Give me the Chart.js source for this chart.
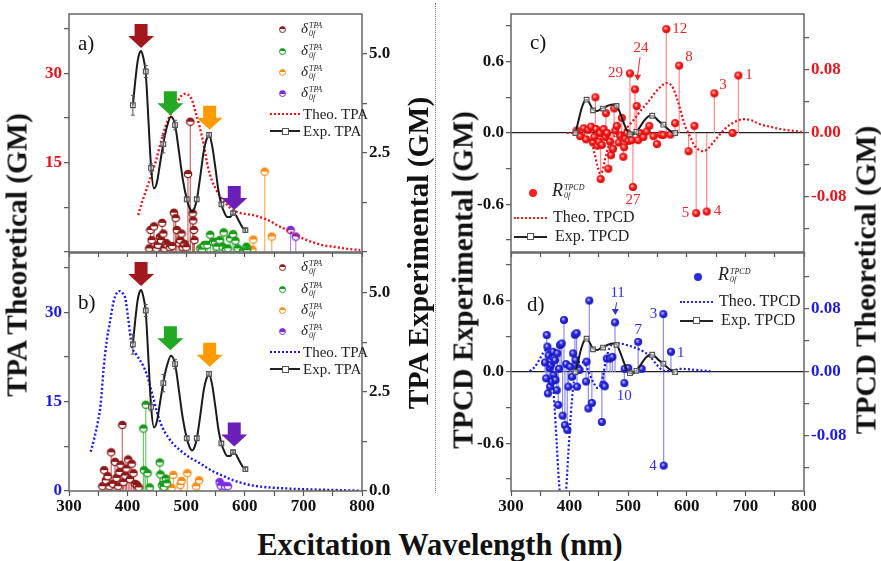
<!DOCTYPE html>
<html>
<head>
<meta charset="utf-8">
<script src="https://cdn.jsdelivr.net/npm/chart.js@4.4.1/dist/chart.umd.min.js"></script>
<style>
  body { margin: 0; width: 881px; height: 561px; background: #fff; position: relative; overflow: hidden;
         font-family: 'Liberation Serif', 'Times New Roman', serif; }
  canvas { position: absolute; }
  .title { position: absolute; font-weight: bold; font-size: 29.5px; white-space: nowrap; color: #111; }
  .vt { transform: translate(-50%, -50%) rotate(-90deg); }
  .ht { transform: translate(-50%, -50%); font-size: 30.5px; }
  .lg { position: absolute; font-size: 15px; line-height: 18px; white-space: nowrap; color: #222; }
  .panel { position: absolute; font-size: 21px; color: #111; }
  .ss { display: inline-block; vertical-align: middle; font-size: 8px; line-height: 8px; font-style: italic; margin-left: 1px; }
  .ss span { display: block; }
  .mk { position: absolute; box-sizing: border-box; }
</style>
</head>
<body>
<canvas id="chA" width="440" height="258" style="left:0;top:0"></canvas>
<canvas id="chB" width="440" height="280" style="left:0;top:240px"></canvas>
<canvas id="chC" width="441" height="258" style="left:440px;top:0"></canvas>
<canvas id="chD" width="441" height="280" style="left:440px;top:240px"></canvas>

<div class="mk" style="left:435px;top:3px;height:490px;border-left:1.5px dotted #777"></div>

<div class="title vt" style="left:17px;top:255px">TPA Theoretical (GM)</div>
<div class="title vt" style="left:418px;top:253px">TPA Experimental (GM)</div>
<div class="title vt" style="left:463px;top:280px">TPCD Experimental (GM)</div>
<div class="title vt" style="left:866px;top:280px">TPCD Theoretical (GM)</div>
<div class="title ht" style="left:440px;top:545px">Excitation Wavelength (nm)</div>

<div class="panel" style="left:78px;top:31px">a)</div>
<div class="panel" style="left:78px;top:290px">b)</div>
<div class="panel" style="left:530px;top:30px">c)</div>
<div class="panel" style="left:527px;top:292px">d)</div>

<script>
// ---- axes ----
var wlTicks = [300, 350, 400, 450, 500, 550, 600, 650, 700, 750, 800];
var wlLabels = [300, 400, 500, 600, 700, 800];
var tpaTheoTicks = [0, 7.5, 15, 22.5, 30, 37.5];
var tpaExpTicks = [0, 1.25, 2.5, 3.75, 5.0];
var tpcdExpTicks = [-0.9, -0.6, -0.3, 0, 0.3, 0.6, 0.9];
var tpcdTheoTicks = [-0.12, -0.08, -0.04, 0, 0.04, 0.08, 0.12];

// ---- experimental TPA (same in a and b) ----
var expTpaWl  = [409, 413, 417, 420, 423, 426, 431, 436, 440, 445, 450, 455, 461, 467, 474, 481, 487, 494, 501, 506, 510, 514, 518, 524, 530, 535, 539, 544, 550, 555, 560, 565, 569, 575, 580, 585, 590, 596, 601];
var expTpaVal = [3.7, 4.3, 4.8, 5.0, 5.07, 4.95, 4.5, 3.2, 2.15, 1.6, 1.75, 2.2, 2.74, 3.15, 3.41, 3.2, 2.6, 1.85, 1.33, 1.1, 1.02, 1.1, 1.31, 1.9, 2.55, 2.85, 2.95, 2.7, 2.1, 1.55, 1.2, 1.0, 0.89, 0.88, 0.98, 0.92, 0.78, 0.62, 0.55];
var expTpaPtWl  = [409, 431, 440, 461, 481, 501, 518, 539, 560, 580, 601];
var expTpaPtVal = [3.7, 4.55, 2.12, 2.72, 3.2, 1.33, 1.33, 2.95, 1.2, 0.98, 0.55];
var expTpaErr   = [0.25, 0.15, 0.1, 0.22, 0.12, 0.05, 0.05, 0.06, 0.05, 0.05, 0.05];

// arrows over the experimental peaks
var arrowWl = [423, 473, 540, 582];
var arrowTipA = [5.14, 3.45, 3.08, 1.06];
var arrowTipB = [5.17, 3.55, 3.13, 1.12];

// ---- theoretical TPA ----
var theoTpaAWl  = [418, 425, 432, 440, 448, 455, 461, 468, 475, 482, 489, 495, 500, 505, 510, 516, 523, 530, 537, 544, 551, 558, 566, 573, 580, 590, 600, 614, 631, 643, 655, 666, 677, 690, 706, 720, 735, 751, 770, 797];
var theoTpaAVal = [6.2, 8.5, 10.5, 12.8, 15.2, 17.8, 20, 22, 23.4, 24.6, 25.9, 26.5, 26.6, 26.3, 25.5, 23.5, 21, 18, 14.3, 12, 10.5, 9.3, 8.4, 7.6, 7.0, 6.6, 6.4, 6.2, 5.7, 5.2, 4.5, 4.0, 3.4, 2.7, 2.0, 1.5, 1.1, 0.9, 0.6, 0.3];
var theoTpaBWl  = [337, 343, 349, 354, 359, 364, 370, 376, 381, 386, 391, 396, 401, 407, 415, 421, 427, 433, 438, 444, 450, 456, 463, 470, 478, 489, 505, 523, 537, 552, 566, 580, 595, 609, 630, 666, 700, 751, 797];
var theoTpaBVal = [6.6, 8.8, 11.5, 14.5, 20.5, 25.0, 28.5, 31.8, 33.2, 33.6, 33.3, 32.4, 29.0, 24.5, 22.9, 22.0, 21.0, 19.5, 17.8, 15.6, 13.3, 11.5, 10.0, 8.9, 7.9, 6.9, 5.7, 4.7, 3.8, 3.0, 2.4, 1.8, 1.35, 1.0, 0.7, 0.45, 0.3, 0.17, 0.05];

// ---- TPA sticks, panel a ----
var aRedWl  = [437, 439, 441, 445, 449, 452, 455, 457, 459, 461, 463, 466, 468, 472, 476, 479, 482, 484, 488, 490, 492, 494, 497, 500, 503, 507, 511, 512, 513, 514];
var aRedVal = [0.6, 3.7, 2.0, 4.3, 0.6, 1.2, 2.5, 2.0, 4.9, 3.1, 0.6, 1.5, 1.2, 0.8, 1.0, 6.6, 5.7, 3.7, 1.5, 2.0, 3.1, 0.8, 1.4, 0.8, 13.1, 21.9, 6.5, 5.3, 3.7, 2.0];
var aGreenWl  = [524, 527, 531, 536, 541, 546, 549, 552, 557, 562, 564, 568, 571, 575, 580, 584, 588, 597, 603, 604];
var aGreenVal = [0.6, 0.4, 1.2, 1.2, 2.9, 1.7, 1.7, 0.9, 2.0, 0.9, 3.3, 0.5, 0.6, 2.3, 3.0, 1.9, 0.6, 0.2, 0.9, 0.3];
var aOrangeWl  = [613, 614.5, 634, 646];
var aOrangeVal = [0.4, 2.1, 13.5, 2.6];
var aPurpleWl  = [678, 687];
var aPurpleVal = [3.7, 2.6];

// ---- TPA sticks, panel b ----
var bRedWl  = [357, 360, 363, 366, 369, 372, 375, 378.5, 381, 384, 386, 388, 391, 393, 396, 398, 401, 404, 407, 410, 413, 416, 419];
var bRedVal = [0.8, 3.5, 1.8, 2.5, 0.8, 6.5, 1.2, 4.9, 2.2, 0.8, 3.2, 4.4, 11.1, 1.5, 2.6, 3.8, 5.3, 2.0, 4.6, 3.0, 1.2, 1.0, 0.6];
var bGreenWl  = [427, 428, 431, 434, 437.7, 455, 456, 459, 462, 465, 467];
var bGreenVal = [10.5, 3.5, 14.5, 3.0, 0.6, 4.8, 2.8, 1.0, 0.7, 2.1, 1.3];
var bOrangeWl  = [475, 478, 490, 492, 502, 517, 522];
var bOrangeVal = [0.5, 2.7, 1.0, 1.7, 3.0, 0.8, 1.8];
var bPurpleWl  = [557, 559, 566, 571];
var bPurpleVal = [1.5, 0.9, 0.8, 0.8];

// ---- experimental TPCD (same in c and d) ----
var expTpcdWl  = [410, 415, 420, 425, 429, 434, 440, 447, 453, 458, 464, 470, 476, 481, 486, 492, 498, 503, 508, 514, 520, 526, 532, 537, 541, 546, 552, 558, 564, 570, 575, 580];
var expTpcdVal = [0, 0.1, 0.2, 0.265, 0.28, 0.25, 0.195, 0.185, 0.2, 0.21, 0.225, 0.238, 0.24, 0.225, 0.17, 0.09, 0.02, -0.01, -0.012, 0.01, 0.05, 0.095, 0.13, 0.145, 0.145, 0.13, 0.1, 0.075, 0.05, 0.025, 0.008, 0];
var expTpcdPtWl  = [410, 429, 440, 457, 480, 503, 514, 541, 560, 580];
var expTpcdPtVal = [0, 0.28, 0.19, 0.205, 0.228, -0.01, 0.01, 0.145, 0.07, 0];

// ---- theoretical TPCD ----
var theoTpcdCWl  = [395, 410, 425, 432, 437, 442, 447, 452, 456, 460, 465, 470, 478, 486, 494, 503, 512, 520, 528, 536, 544, 551, 558, 565, 571, 577, 583, 588, 594, 600, 606, 613, 620, 628, 636, 645, 654, 662, 671, 679, 688, 696, 710, 725, 742, 759, 778, 796];
var theoTpcdCVal = [0, 0, -0.002, -0.006, -0.012, -0.024, -0.04, -0.051, -0.048, -0.035, -0.02, -0.01, -0.003, 0.0, 0.004, 0.011, 0.019, 0.027, 0.034, 0.041, 0.049, 0.055, 0.06, 0.063, 0.062, 0.056, 0.044, 0.032, 0.016, 0.004, -0.005, -0.016, -0.021, -0.023, -0.02, -0.012, -0.004, 0.003, 0.009, 0.013, 0.016, 0.0175, 0.016, 0.011, 0.008, 0.005, 0.003, 0.0016];
var theoTpcdDWl  = [332, 340, 348, 355, 361, 366, 370, 374, 378, 382, 386, 390, 394, 398, 402, 406, 412, 418, 424, 430, 436, 442, 447, 452, 457, 462, 468, 475, 485, 497, 510, 520, 530, 540, 549, 557, 565, 575, 590, 610, 640];
var theoTpcdDVal = [0.001, 0.006, 0.015, 0.024, 0.028, 0.022, 0.0, -0.04, -0.09, -0.14, -0.17, -0.175, -0.15, -0.1, -0.055, -0.02, 0.003, 0.013, 0.012, 0.005, -0.006, -0.015, -0.02, -0.018, -0.005, 0.015, 0.03, 0.036, 0.036, 0.034, 0.031, 0.028, 0.024, 0.017, 0.009, 0.003, 0.001, 0.002, 0.004, 0.003, 0.001];

// ---- TPCD sticks (theoretical axis units) ----
var cStickWl  = [412, 418, 424, 428, 432, 436.6, 440, 442, 444, 445, 447, 450, 452, 453, 455, 458, 461, 462, 464, 466, 469, 470.6, 474, 476, 478, 480.6, 483.5, 486, 489, 491.6, 493, 495, 498, 500.5, 503, 506, 508, 511.6, 514.5, 517, 520, 526, 531.6, 536, 543, 549, 556, 560, 565, 572, 580, 587, 603, 613, 616, 634, 647, 678, 688];
var cStickVal = [0.003, -0.004, 0.006, -0.008, 0.004, 0.008, -0.012, -0.005, 0.045, 0.005, -0.016, -0.011, 0.0, -0.058, -0.015, 0.005, -0.005, 0.025, 0.0, -0.045, -0.011, -0.028, -0.02, 0.031, 0.003, 0.009, -0.012, -0.003, 0.019, -0.03, -0.018, -0.007, 0.0, -0.01, 0.075, -0.009, -0.068, 0.055, 0.034, -0.009, 0.0, -0.005, 0.002, 0.009, -0.004, -0.014, -0.002, -0.0025, 0.131, -0.002, 0.0125, 0.085, -0.023, 0.009, -0.101, -0.099, 0.05, 0.0, 0.0725];
var dStickWl  = [358, 360, 361, 362, 363, 364, 366, 366.6, 368, 370, 372, 372.5, 375, 376, 378, 379, 380.6, 382, 383.6, 386.5, 388, 390.4, 392, 394, 396, 398, 401, 404, 406, 409, 410, 412, 412.6, 414, 417, 428, 429, 432, 433.6, 438, 455, 457.6, 460, 463.5, 469, 473, 477.5, 493.4, 494, 500, 517, 523, 560, 560.5, 573];
var dStickVal = [0.012, -0.008, 0.0466, 0.032, -0.027, 0.021, 0.005, -0.0185, 0.009, -0.012, 0.0256, -0.004, 0.015, -0.01, -0.023, 0.0235, -0.0415, 0.004, 0.034, 0.036, -0.055, 0.0655, -0.067, 0.01, -0.073, -0.0185, 0.0067, -0.006, 0.0235, 0.047, 0.015, 0.049, -0.0185, 0.005, 0.0025, -0.012, 0.013, -0.046, 0.09, -0.039, -0.063, -0.016, -0.018, 0.017, 0.017, 0.019, 0.0625, -0.014, 0.004, 0.005, 0.038, 0.004, 0.073, -0.118, 0.0256];

// numbered states
var cNumText = ['12', '8', '29', '27', '3', '1', '5', '4'];
var cNumWl   = [565, 587, 503, 508, 647, 688, 616, 634];
var cNumVal  = [0.131, 0.085, 0.075, -0.068, 0.05, 0.0725, -0.101, -0.099];
var dNumText = ['3', '7', '1', '10', '4'];
var dNumWl   = [560, 517, 573, 493.4, 560.5];
var dNumVal  = [0.073, 0.038, 0.0256, -0.014, -0.118];

// ---------------------------------------------------------------
function zip(xs, ys) { return xs.map(function (x, i) { return { x: x, y: ys[i] }; }); }

var tickFont = { family: "'Liberation Serif', serif", size: 17, weight: 'bold' };

function halfBall(color) {
    var c = document.createElement('canvas');
    c.width = 10; c.height = 10;
    var g = c.getContext('2d');
    g.fillStyle = '#fff'; g.beginPath(); g.arc(5, 5, 3.7, 0, 2 * Math.PI); g.fill();
    g.fillStyle = color; g.beginPath(); g.arc(5, 5, 3.7, Math.PI, 2 * Math.PI); g.fill();
    g.strokeStyle = color; g.lineWidth = 1.3; g.beginPath(); g.arc(5, 5, 3.7, 0, 2 * Math.PI); g.stroke();
    return c;
}
function ball(light, mid, dark) {
    var c = document.createElement('canvas');
    c.width = 10; c.height = 10;
    var g = c.getContext('2d');
    var gr = g.createRadialGradient(4, 3.8, 0.3, 5, 5, 4.2);
    gr.addColorStop(0, light);
    gr.addColorStop(0.45, mid);
    gr.addColorStop(1, dark);
    g.fillStyle = gr; g.beginPath(); g.arc(5, 5, 4, 0, 2 * Math.PI); g.fill();
    return c;
}

function xAxis(h, labels) {
    return {
        type: 'linear', min: 300, max: 800, offset: false,
        afterBuildTicks: function (s) { s.ticks = wlTicks.map(function (v) { return { value: v }; }); },
        afterFit: function (s) { s.height = h; s.paddingLeft = 0; s.paddingRight = 0; },
        border: { display: false },
        grid: { drawOnChartArea: false, tickLength: 5, tickWidth: 1.2, color: '#555' },
        ticks: {
            autoSkip: false, maxRotation: 0, padding: 0, color: '#111', font: tickFont,
            callback: function (v) { return labels && wlLabels.indexOf(v) >= 0 ? String(v) : ''; }
        }
    };
}

function yAxis(pos, w, min, max, tickVals, labelVals, digits, color, zeroLine) {
    return {
        type: 'linear', position: pos, min: min, max: max, stacked: false,
        afterBuildTicks: function (s) { s.ticks = tickVals.map(function (v) { return { value: v }; }); },
        afterFit: function (s) { s.width = w; s.paddingTop = 0; s.paddingBottom = 0; },
        border: { display: false },
        grid: {
            drawOnChartArea: !!zeroLine, tickLength: 5, tickWidth: 1.2, tickColor: '#555', lineWidth: 1.3,
            color: function (c) { return c.tick && c.tick.value === 0 ? '#222' : 'rgba(0,0,0,0)'; }
        },
        ticks: {
            autoSkip: false, padding: 2, color: color, font: tickFont,
            callback: function (v) {
                return labelVals.some(function (l) { return Math.abs(l - v) < 1e-9; }) ? v.toFixed(digits) : '';
            }
        }
    };
}

// stems from zero to each stick point
var stemPlugin = {
    id: 'stems',
    beforeDatasetsDraw: function (chart) {
        var ctx = chart.ctx;
        chart.data.datasets.forEach(function (ds, i) {
            if (!ds.stemColor) return;
            var meta = chart.getDatasetMeta(i);
            var y0 = chart.scales[meta.yAxisID].getPixelForValue(0);
            ctx.save();
            ctx.strokeStyle = ds.stemColor;
            ctx.lineWidth = 1.2;
            meta.data.forEach(function (p) {
                ctx.beginPath(); ctx.moveTo(p.x, y0); ctx.lineTo(p.x, p.y); ctx.stroke();
            });
            ctx.restore();
        });
    }
};

var errPlugin = {
    id: 'errbars',
    afterDatasetsDraw: function (chart) {
        var ctx = chart.ctx;
        chart.data.datasets.forEach(function (ds, i) {
            if (!ds.errors) return;
            var meta = chart.getDatasetMeta(i);
            var ys = chart.scales[meta.yAxisID];
            ctx.save();
            ctx.strokeStyle = '#555'; ctx.lineWidth = 1;
            meta.data.forEach(function (p, k) {
                var v = ds.data[k].y, e = ds.errors[k];
                var t = ys.getPixelForValue(v + e), b = ys.getPixelForValue(v - e);
                ctx.beginPath();
                ctx.moveTo(p.x, t); ctx.lineTo(p.x, b);
                ctx.moveTo(p.x - 2, t); ctx.lineTo(p.x + 2, t);
                ctx.moveTo(p.x - 2, b); ctx.lineTo(p.x + 2, b);
                ctx.stroke();
            });
            ctx.restore();
        });
    }
};

var arrowPlugin = {
    id: 'arrows',
    afterDatasetsDraw: function (chart, args, o) {
        if (!o || !o.wl) return;
        var x = chart.scales.x, y = chart.scales.y2, ctx = chart.ctx;
        o.wl.forEach(function (w, i) {
            var px = x.getPixelForValue(w), py = y.getPixelForValue(o.tip[i]);
            ctx.save();
            ctx.fillStyle = o.colors[i];
            ctx.beginPath();
            ctx.moveTo(px, py);
            ctx.lineTo(px - 13, py - 12); ctx.lineTo(px - 6.5, py - 12); ctx.lineTo(px - 6.5, py - 24);
            ctx.lineTo(px + 6.5, py - 24); ctx.lineTo(px + 6.5, py - 12); ctx.lineTo(px + 13, py - 12);
            ctx.closePath();
            ctx.fill();
            ctx.restore();
        });
    }
};

var labelPlugin = {
    id: 'numLabels',
    afterDatasetsDraw: function (chart, args, o) {
        if (!o || !o.text) return;
        var x = chart.scales.x, y = chart.scales.y2, ctx = chart.ctx;
        ctx.save();
        ctx.fillStyle = o.color; ctx.strokeStyle = o.color;
        ctx.font = "15px 'Liberation Serif', serif";
        ctx.textBaseline = 'middle';
        o.text.forEach(function (t, i) {
            ctx.textAlign = o.align[i];
            ctx.fillText(t, x.getPixelForValue(o.wl[i]) + o.dx[i], y.getPixelForValue(o.val[i]) + o.dy[i]);
        });
        var n = o.note;
        if (n && n.text) {
            var nx = x.getPixelForValue(n.wl), ny = y.getPixelForValue(n.val);
            var tx = x.getPixelForValue(n.tipWl), ty = y.getPixelForValue(n.tipVal);
            ctx.textAlign = 'center';
            ctx.fillText(n.text, nx, ny);
            ctx.lineWidth = 1;
            ctx.beginPath(); ctx.moveTo(nx - 1, ny + 9); ctx.lineTo(tx, ty - 5); ctx.stroke();
            ctx.beginPath(); ctx.moveTo(tx - 3.5, ty - 6); ctx.lineTo(tx + 3.5, ty - 6); ctx.lineTo(tx, ty); ctx.closePath(); ctx.fill();
        }
        ctx.restore();
    }
};

var framePlugin = {
    id: 'frame',
    afterDraw: function (chart) {
        var a = chart.chartArea, ctx = chart.ctx;
        ctx.save();
        ctx.strokeStyle = '#666'; ctx.lineWidth = 1.5;
        ctx.strokeRect(a.left, a.top, a.right - a.left, a.bottom - a.top);
        ctx.restore();
    }
};

var plugins = [stemPlugin, errPlugin, arrowPlugin, labelPlugin, framePlugin];

var darkRed = '#8e1a1a', green = '#1a9a1a', orange = '#ff8c1a', purple = '#7a2be0';
var arrowColors = ['#a3181c', '#22a822', '#ff9a00', '#6b1fb8'];

function stickSet(xs, ys, color, stem, axis) {
    return {
        data: zip(xs, ys), yAxisID: axis || 'y', pointStyle: halfBall(color), pointRadius: 4,
        stemColor: stem, order: 5
    };
}
function lineSet(xs, ys, color, dashed, axis, width) {
    return {
        data: zip(xs, ys), yAxisID: axis, showLine: true, borderColor: color,
        borderWidth: width || 2, borderDash: dashed ? [2, 2.2] : [], pointRadius: 0,
        cubicInterpolationMode: 'monotone', order: dashed ? 3 : 2
    };
}
function squareSet(xs, ys, axis, err) {
    return {
        data: zip(xs, ys), yAxisID: axis, pointStyle: 'rect', pointRadius: 3.3,
        borderColor: '#555', borderWidth: 1.2, backgroundColor: 'rgba(255,255,255,0.6)',
        errors: err, order: 1
    };
}

function baseOptions(padTop, xH, xLabels, yL, yR, extra) {
    var o = {
        responsive: false, animation: false, devicePixelRatio: 1,
        layout: { padding: { top: padTop, left: 0, right: 0, bottom: 0 } },
        scales: { x: xAxis(xH, xLabels), y: yL, y2: yR },
        plugins: { legend: { display: false }, tooltip: { enabled: false } }
    };
    Object.assign(o.plugins, extra);
    return o;
}

// ---- panel a ----
new Chart(document.getElementById('chA'), {
    type: 'scatter',
    data: {
        datasets: [
            stickSet(aRedWl, aRedVal, darkRed, '#c86a6a'),
            stickSet(aGreenWl, aGreenVal, green, '#6ccc6c'),
            stickSet(aOrangeWl, aOrangeVal, orange, '#ffb060'),
            stickSet(aPurpleWl, aPurpleVal, purple, '#b488f0'),
            lineSet(theoTpaAWl, theoTpaAVal, '#e8141c', true, 'y', 2.4),
            lineSet(expTpaWl, expTpaVal, '#1a1a1a', false, 'y2', 2),
            squareSet(expTpaPtWl, expTpaPtVal, 'y2', expTpaErr)
        ]
    },
    options: baseOptions(14, 6, false,
        yAxis('left', 69, 0, 40, tpaTheoTicks, [15, 30], 0, '#e8141c'),
        yAxis('right', 78, 0, 6, tpaExpTicks, [2.5, 5], 1, '#111'),
        { arrows: { wl: arrowWl, tip: arrowTipA, colors: arrowColors } }),
    plugins: plugins
});

// ---- panel b ----
new Chart(document.getElementById('chB'), {
    type: 'scatter',
    data: {
        datasets: [
            stickSet(bRedWl, bRedVal, darkRed, '#c86a6a'),
            stickSet(bGreenWl, bGreenVal, green, '#6ccc6c'),
            stickSet(bOrangeWl, bOrangeVal, orange, '#ffb060'),
            stickSet(bPurpleWl, bPurpleVal, purple, '#b488f0'),
            lineSet(theoTpaBWl, theoTpaBVal, '#1a1ae8', true, 'y', 2.4),
            lineSet(expTpaWl, expTpaVal, '#1a1a1a', false, 'y2', 2),
            squareSet(expTpaPtWl, expTpaPtVal, 'y2', expTpaErr)
        ]
    },
    options: baseOptions(13, 29, true,
        yAxis('left', 69, 0, 40, tpaTheoTicks, [0, 15, 30], 0, '#1a1ae8'),
        yAxis('right', 78, 0, 6, tpaExpTicks, [0, 2.5, 5], 1, '#111'),
        { arrows: { wl: arrowWl, tip: arrowTipB, colors: arrowColors } }),
    plugins: plugins
});

// ---- panel c ----
new Chart(document.getElementById('chC'), {
    type: 'scatter',
    data: {
        datasets: [
            { data: zip(cStickWl, cStickVal), yAxisID: 'y2', pointStyle: ball('#ffc0c0', '#ff2020', '#d00000'), pointRadius: 4, stemColor: '#ff8a8a', order: 5 },
            lineSet(theoTpcdCWl, theoTpcdCVal, '#e8141c', true, 'y2', 2.2),
            lineSet(expTpcdWl, expTpcdVal, '#1a1a1a', false, 'y', 2),
            squareSet(expTpcdPtWl, expTpcdPtVal, 'y')
        ]
    },
    options: baseOptions(14, 6, false,
        yAxis('left', 71, -1, 1, tpcdExpTicks, [-0.6, 0, 0.6], 1, '#111', true),
        yAxis('right', 77, -0.15, 0.15, tpcdTheoTicks, [-0.08, 0, 0.08], 2, '#e8141c'),
        {
            numLabels: {
                text: cNumText, wl: cNumWl, val: cNumVal, color: '#e8262a',
                dx: [6, 6, -7, 0, 5, 7, -7, 7], dy: [0, -9, 0, 13, -8, 0, 0, 0],
                align: ['left', 'left', 'right', 'center', 'left', 'left', 'right', 'left'],
                note: { text: '24', wl: 522, val: 0.107, tipWl: 516, tipVal: 0.066 }
            }
        }),
    plugins: plugins
});

// ---- panel d ----
new Chart(document.getElementById('chD'), {
    type: 'scatter',
    data: {
        datasets: [
            { data: zip(dStickWl, dStickVal), yAxisID: 'y2', pointStyle: ball('#c8c8ff', '#2a2ae0', '#1010b0'), pointRadius: 4, stemColor: '#8c8cf2', order: 5 },
            lineSet(theoTpcdDWl, theoTpcdDVal, '#1a1ae8', true, 'y2', 2.2),
            lineSet(expTpcdWl, expTpcdVal, '#1a1a1a', false, 'y', 2),
            squareSet(expTpcdPtWl, expTpcdPtVal, 'y')
        ]
    },
    options: baseOptions(13, 29, true,
        yAxis('left', 71, -1, 1, tpcdExpTicks, [-0.6, 0, 0.6], 1, '#111', true),
        yAxis('right', 77, -0.15, 0.15, tpcdTheoTicks, [-0.08, 0, 0.08], 2, '#1a1ae8'),
        {
            numLabels: {
                text: dNumText, wl: dNumWl, val: dNumVal, color: '#3030dd',
                dx: [-6, 0, 6, 0, -7], dy: [0, -12, 1, 13, 0],
                align: ['right', 'center', 'left', 'center', 'right'],
                note: { text: '11', wl: 482, val: 0.099, tipWl: 478, tipVal: 0.072 }
            }
        }),
    plugins: plugins
});

// ---- legends (html) ----
function add(html, css, cls) {
    var d = document.createElement('div');
    d.className = cls || 'lg';
    Object.assign(d.style, css);
    d.innerHTML = html;
    document.body.appendChild(d);
}
var deltaTxt = '<i>&delta;</i><span class="ss"><span>TPA</span><span>0f</span></span>';
var rTxt = '<i style="font-size:18px">R</i><span class="ss"><span>TPCD</span><span>0f</span></span>';

function tpaLegend(y0, theoColor) {
    var rows = [y0, y0 + 22, y0 + 43, y0 + 64];
    var cols = [darkRed, green, orange, purple];
    rows.forEach(function (y, i) {
        add('', { left: '279px', top: (y - 3.5) + 'px', width: '7px', height: '7px', borderRadius: '50%',
            border: '1.3px solid ' + cols[i], background: 'linear-gradient(' + cols[i] + ' 50%, #fff 50%)' }, 'mk');
        add(deltaTxt, { left: '301px', top: (y - 10) + 'px' });
    });
    add('', { left: '270px', top: (y0 + 84) + 'px', width: '30px', borderTop: '2.5px dotted ' + theoColor }, 'mk');
    add('Theo. TPA', { left: '303px', top: (y0 + 76) + 'px' });
    add('', { left: '270px', top: (y0 + 101) + 'px', width: '30px', borderTop: '2px solid #222' }, 'mk');
    add('', { left: '282px', top: (y0 + 99) + 'px', width: '7px', height: '7px', border: '1.2px solid #555', background: '#fff' }, 'mk');
    add('Exp. TPA', { left: '303px', top: (y0 + 93) + 'px' });
}
tpaLegend(29, '#e8141c');
tpaLegend(267, '#1a1ae8');

function tpcdLegend(x0, y0, color, dotX) {
    add('', { left: (dotX - 4) + 'px', top: (y0 - 4) + 'px', width: '8px', height: '8px', borderRadius: '50%', background: color }, 'mk');
    add(rTxt, { left: (x0 + 38) + 'px', top: (y0 - 12) + 'px', fontSize: '16px' });
    add('', { left: x0 + 'px', top: (y0 + 24) + 'px', width: '33px', borderTop: '2.5px dotted ' + color }, 'mk');
    add('Theo. TPCD', { left: (x0 + 39) + 'px', top: (y0 + 15) + 'px', fontSize: '16px' });
    add('', { left: x0 + 'px', top: (y0 + 43) + 'px', width: '33px', borderTop: '2.2px solid #222' }, 'mk');
    add('', { left: (x0 + 13) + 'px', top: (y0 + 40) + 'px', width: '7px', height: '7px', border: '1.2px solid #555', background: '#fff' }, 'mk');
    add('Exp. TPCD', { left: (x0 + 41) + 'px', top: (y0 + 34) + 'px', fontSize: '16px' });
}
tpcdLegend(514, 193, '#ff2020', 533);
tpcdLegend(680, 277, '#2a2ae0', 698);
</script>
</body>
</html>
